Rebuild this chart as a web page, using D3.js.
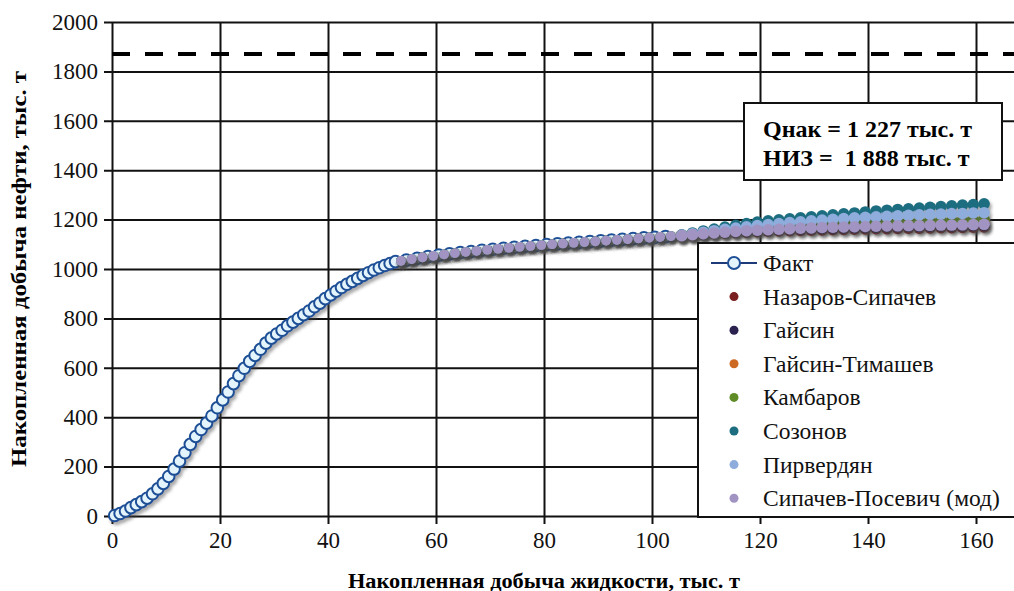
<!DOCTYPE html>
<html>
<head>
<meta charset="utf-8">
<script src="https://cdn.jsdelivr.net/npm/d3@7"></script>
<style>
  body { margin: 0; background: #fff; }
  svg { display: block; }
</style>
</head>
<body>
<svg></svg>
<script>
// fact data (liquid, oil - thousand t)
let factX = [0.5,1.5,2.5,3.5,4.5,5.5,6.5,7.5,8.5,9.5,10.5,11.5,12.5,13.5,14.5,15.5,16.5,17.5,18.5,19.5,
  20.5,21.5,22.5,23.5,24.5,25.5,26.5,27.5,28.5,29.5,30.5,31.5,32.5,33.5,34.5,35.5,36.5,37.5,38.5,39.5,
  40.5,41.5,42.5,43.5,44.5,45.5,46.5,47.5,48.5,49.5,50.5,51.5,52.5,
  54.5,56.5,58.5,60.5,62.5,64.5,66.5,68.5,70.5,72.5,74.5,76.5,78.5,80.5,82.5,84.5,86.5,88.5,90.5,
  92.5,94.5,96.5,98.5,100.5,102.5]
let factY = [2,10,20,34,46,58,72,90,110,132,160,190,222,256,290,322,350,376,405,438,
  470,502,536,568,598,626,650,675,700,720,737,752,770,785,800,815,830,847,862,880,
  895,910,925,938,950,962,974,985,996,1005,1014,1022,1030,
  1036,1043,1050,1056,1062,1067,1071,1076,1080,1084,1088,1092,1095,1099,1102,1105,1108,1111,1114,
  1117,1120,1123,1126,1128,1131]

// history-matching period (same for all models)
let fitX = [53.5,55.5,57.5,59.5,61.5,63.5,65.5,67.5,69.5,71.5,73.5,75.5,77.5,79.5,81.5,83.5,85.5,
  87.5,89.5,91.5,93.5,95.5,97.5,99.5,101.5,103.5]
let fitY = [1033,1040,1047,1053,1059,1064,1069,1073,1078,1082,1086,1090,1093,1097,1100,1103,1106,
  1109,1112,1115,1118,1121,1124,1127,1130,1133]

// forecast period
let forecastX = [105.5,107.5,109.5,111.5,113.5,115.5,117.5,119.5,121.5,123.5,125.5,127.5,129.5,131.5,
  133.5,135.5,137.5,139.5,141.5,143.5,145.5,147.5,149.5,151.5,153.5,155.5,157.5,159.5,161.5]

let nazarovSipachev = [1134,1137,1140,1143,1145,1147,1149,1151,1153,1154,1155,1156,1157,1158,1159,1160,1161,1162,1163,1163,1164,1165,1165,1166,1167,1167,1168,1169,1170]
let gaisin = [1135,1138,1142,1145,1148,1150,1153,1155,1157,1159,1161,1162,1163,1164,1165,1166,1167,1168,1169,1170,1171,1172,1172,1173,1174,1174,1175,1176,1177]
let gaisinTimashev = [1136,1140,1145,1149,1153,1157,1160,1163,1166,1169,1171,1173,1175,1177,1179,1181,1182,1183,1184,1185,1186,1187,1188,1189,1190,1191,1192,1193,1194]
let kambarov = [1136,1141,1146,1151,1155,1159,1163,1166,1169,1172,1175,1177,1179,1181,1183,1185,1187,1188,1189,1190,1191,1192,1193,1194,1195,1196,1198,1199,1201]
let sozonov = [1138,1146,1154,1162,1170,1177,1184,1190,1195,1199,1203,1207,1211,1215,1219,1223,1227,1231,1235,1238,1241,1244,1247,1250,1253,1256,1259,1261,1264]
let pirverdyan = [1137,1143,1149,1155,1161,1166,1171,1176,1180,1184,1188,1191,1195,1198,1201,1204,1207,1209,1211,1213,1215,1217,1219,1221,1222,1224,1225,1227,1228]
let sipachevPosevich = [1135,1139,1143,1146,1149,1152,1155,1157,1159,1161,1163,1165,1166,1168,1169,1170,1171,1172,1173,1174,1175,1176,1176,1177,1178,1178,1179,1180,1181]

let modelNames = ['Назаров-Сипачев', 'Гайсин', 'Гайсин-Тимашев', 'Камбаров', 'Созонов', 'Пирвердян', 'Сипачев-Посевич (мод)']
let modelValues = [nazarovSipachev, gaisin, gaisinTimashev, kambarov, sozonov, pirverdyan, sipachevPosevich]
let modelColors = ['#7a1f1f', '#2b2250', '#cc6a24', '#5f8c26', '#1c6d80', '#8eacdc', '#a294c2']

let nizLine = 1870
let xTicks = [0, 20, 40, 60, 80, 100, 120, 140, 160]
let yTicks = [0, 200, 400, 600, 800, 1000, 1200, 1400, 1600, 1800, 2000]

let width = 1014
let height = 591
let serif = '"Liberation Serif"'

let svg = d3.select('svg')
    .attr('width', width)
    .attr('height', height)

let xScale = d3.scaleLinear().domain([0, 170]).range([112, 1030])
let yScale = d3.scaleLinear().domain([0, 2000]).range([516, 22])

let defs = svg.append('defs')
let shadow = defs.append('filter').attr('id', 'shadow')
    .attr('x', '-50%').attr('y', '-50%').attr('width', '200%').attr('height', '200%')
shadow.append('feDropShadow')
    .attr('dx', 2).attr('dy', 3).attr('stdDeviation', 1.6)
    .attr('flood-color', '#444').attr('flood-opacity', 0.45)
let blur = defs.append('filter').attr('id', 'blur')
blur.append('feGaussianBlur').attr('stdDeviation', 1.2)

// grid + axes
let drawGrid = () => {
    let yAxis = d3.axisLeft(yScale)
        .tickValues(yTicks)
        .tickSize(-(width - 112))
        .tickPadding(14)
        .tickFormat(d3.format('d'))
    svg.append('g')
        .attr('transform', 'translate(112,0)')
        .call(yAxis)
        .call(g => g.select('.domain').remove())
        .call(g => g.selectAll('line').attr('x1', -8).attr('stroke', '#111').attr('stroke-width', 2))
        .call(g => g.selectAll('text').attr('font-size', 23).attr('fill', '#111')
            .style('font-family', serif))

    let xAxis = d3.axisBottom(xScale)
        .tickValues(xTicks)
        .tickSize(-(516 - 22))
        .tickPadding(16)
    svg.append('g')
        .attr('transform', 'translate(0,516)')
        .call(xAxis)
        .call(g => g.select('.domain').remove())
        .call(g => g.selectAll('line').attr('y1', 8).attr('stroke', '#111').attr('stroke-width', 2))
        .call(g => g.selectAll('text').attr('font-size', 23).attr('fill', '#111')
            .style('font-family', serif))
}

let drawNiz = () => {
    svg.append('line')
        .attr('x1', 112).attr('x2', width)
        .attr('y1', yScale(nizLine) + 7).attr('y2', yScale(nizLine) + 7)
        .attr('stroke', '#c8c8c8').attr('stroke-width', 4)
        .attr('stroke-dasharray', '18,15')
        .attr('filter', 'url(#blur)')
    svg.append('line')
        .attr('x1', 112).attr('x2', width)
        .attr('y1', yScale(nizLine)).attr('y2', yScale(nizLine))
        .attr('stroke', '#000').attr('stroke-width', 4)
        .attr('stroke-dasharray', '18,15')
}

let drawFact = () => {
    let pts = factX.map((x, i) => [x, factY[i]])
    svg.append('g')
        .attr('filter', 'url(#shadow)')
        .selectAll('circle')
        .data(pts)
        .enter()
        .append('circle')
        .attr('cx', d => xScale(d[0]))
        .attr('cy', d => yScale(d[1]))
        .attr('r', 5.8)
        .attr('fill', '#e4f4fc')
        .attr('stroke', '#1f4f96')
        .attr('stroke-width', 2)
}

let drawModels = () => {
    modelValues.forEach((vals, k) => {
        let pts = fitX.map((x, i) => [x, fitY[i]])
            .concat(forecastX.map((x, i) => [x, vals[i]]))
        svg.append('g')
            .attr('filter', 'url(#shadow)')
            .selectAll('circle')
            .data(pts)
            .enter()
            .append('circle')
            .attr('cx', d => xScale(d[0]))
            .attr('cy', d => yScale(d[1]))
            .attr('r', d => d[0] > 104 ? 5.8 : 4.8)
            .attr('fill', modelColors[k])
    })
}

let drawNote = () => {
    svg.append('rect')
        .attr('x', 744).attr('y', 103).attr('width', 258).attr('height', 77)
        .attr('fill', '#fff').attr('stroke', '#111').attr('stroke-width', 2)
    let lines = ['Qнак = 1 227 тыс. т', 'НИЗ =  1 888 тыс. т']
    svg.selectAll('.note')
        .data(lines)
        .enter()
        .append('text')
        .attr('class', 'note')
        .attr('x', 763)
        .attr('y', (d, i) => 137 + i * 29)
        .attr('font-size', 24)
        .attr('font-weight', 'bold')
        .style('font-family', serif)
        .style('white-space', 'pre')
        .text(d => d)
}

let drawLegend = () => {
    let g = svg.append('g')
    g.append('rect')
        .attr('x', 698).attr('y', 243).attr('width', 330).attr('height', 274)
        .attr('fill', '#fff').attr('stroke', '#111').attr('stroke-width', 2)
    let rowY = i => 263 + i * 33.6
    g.append('line')
        .attr('x1', 711).attr('x2', 757).attr('y1', rowY(0)).attr('y2', rowY(0))
        .attr('stroke', '#1f3a78').attr('stroke-width', 2)
    g.append('circle')
        .attr('cx', 734).attr('cy', rowY(0)).attr('r', 6)
        .attr('fill', '#e4f4fc').attr('stroke', '#1f4f96').attr('stroke-width', 2)
    g.append('text').attr('x', 763).attr('y', rowY(0) + 8)
        .attr('font-size', 23.5).style('font-family', serif).attr('fill', '#111').text('Факт')
    modelNames.forEach((name, i) => {
        g.append('circle')
            .attr('cx', 734).attr('cy', rowY(i + 1)).attr('r', 4.5)
            .attr('fill', modelColors[i])
        g.append('text').attr('x', 763).attr('y', rowY(i + 1) + 8)
            .attr('font-size', 23.5).style('font-family', serif).attr('fill', '#111').text(name)
    })
}

let drawTitles = () => {
    svg.append('text')
        .attr('x', 544).attr('y', 588)
        .attr('text-anchor', 'middle')
        .attr('font-size', 20).attr('font-weight', 'bold')
        .style('font-family', serif)
        .attr('textLength', 392).attr('lengthAdjust', 'spacingAndGlyphs')
        .text('Накопленная добыча жидкости, тыс. т')
    svg.append('text')
        .attr('transform', 'translate(26,269) rotate(-90)')
        .attr('text-anchor', 'middle')
        .attr('font-size', 20).attr('font-weight', 'bold')
        .style('font-family', serif)
        .attr('textLength', 396).attr('lengthAdjust', 'spacingAndGlyphs')
        .text('Накопленная добыча нефти, тыс. т')
}

drawGrid()
drawNiz()
drawFact()
drawModels()
drawNote()
drawLegend()
drawTitles()
</script>
</body>
</html>
